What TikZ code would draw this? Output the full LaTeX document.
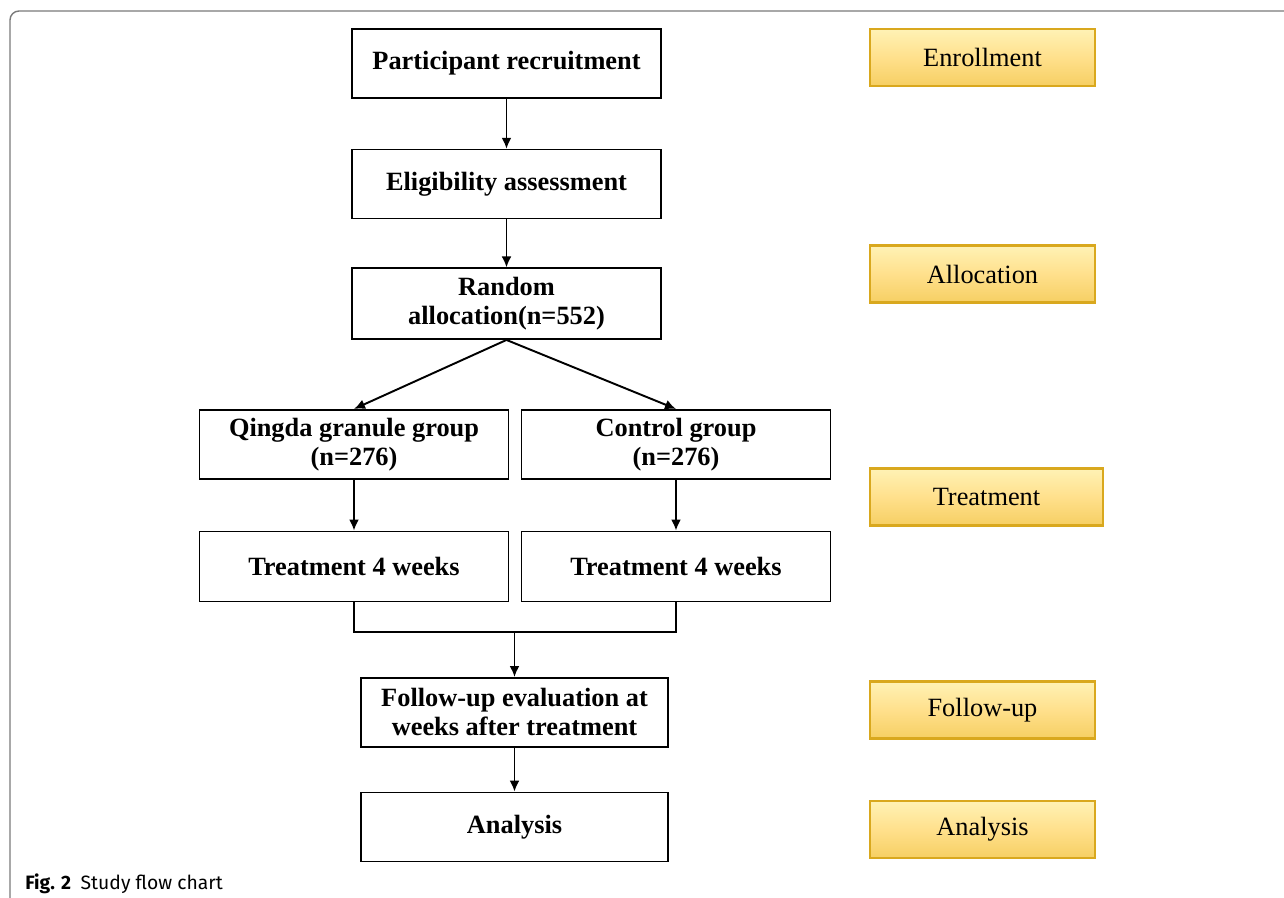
\documentclass[tikz,border=0pt]{standalone}
\usepackage{xcolor}
\usepackage{fontspec}
\setmainfont{Liberation Serif}
\newfontfamily\capfont{Fira Sans}
\usepackage{tikz}
\usetikzlibrary{arrows.meta,positioning,calc}
\definecolor{framegray}{HTML}{7A7A7A}
\definecolor{goldedge}{HTML}{D9A81E}
\definecolor{goldtop}{HTML}{FFF2B5}
\definecolor{goldmid}{HTML}{FFE08C}
\definecolor{goldbot}{HTML}{F6CF63}

\begin{document}
\begin{tikzpicture}[
  node distance=1cm,
  every node/.style={align=center},
  flowbox/.style={draw=black,line width=0.9pt,minimum width=6.18cm,minimum height=1.38cm,
    font=\fontsize{15}{16.5}\selectfont\bfseries,inner sep=2pt},
  stage/.style={draw=goldedge,line width=1.4pt,top color=goldtop,bottom color=goldbot,
    middle color=goldmid,minimum width=4.5cm,minimum height=1.14cm,
    font=\fontsize{15}{16.5}\selectfont},
  arr/.style={-{Latex[length=2.2mm,width=2mm]},line width=1.1pt},
  link/.style={line width=1.1pt}
]
\useasboundingbox (0,0) rectangle (25.68,-17.96);
% outer frame
\draw[framegray,line width=0.8pt,rounded corners=0.18cm] (0.2,-18.2) -- (0.2,-0.22) -- (26,-0.22);

% main flow
\node[flowbox] (recruit) at (10.13,-1.27) {Participant recruitment};
\node[flowbox,below=of recruit] (elig) {Eligibility assessment};
\node[flowbox,below=0.96cm of elig,minimum height=1.42cm] (rand) {Random\\allocation(n=552)};
\node[flowbox,below=1.38cm of rand,xshift=-3.05cm] (qingda) {Qingda granule group\\(n=276)};
\node[flowbox,below=1.38cm of rand,xshift=3.39cm] (control) {Control group\\(n=276)};
\node[flowbox,below=1.02cm of qingda,minimum height=1.4cm] (treatL) {Treatment 4 weeks};
\node[flowbox,below=1.02cm of control,minimum height=1.4cm] (treatR) {Treatment 4 weeks};
\coordinate (merge) at (10.29,-12.64);
\node[flowbox,below=0.9cm of merge,minimum width=6.14cm] (follow) {Follow-up evaluation at\\weeks after treatment};
\node[flowbox,below=0.88cm of follow,minimum width=6.14cm] (analysis) {Analysis};

\draw[arr] (recruit)--(elig);
\draw[arr] (elig)--(rand);
\draw[arr] (rand.south)--(qingda.north);
\draw[arr] (rand.south)--(control.north);
\draw[arr] (qingda)--(treatL);
\draw[arr] (control)--(treatR);
\draw[link] (treatL.south)|-(merge);
\draw[link] (treatR.south)|-(merge);
\draw[arr] (merge)--(follow);
\draw[arr] (follow)--(analysis);

% stage labels
\node[stage] (s1) at (19.65,-1.15) {Enrollment};
\node[stage] (s2) at (19.65,-5.48) {Allocation};
\node[stage,minimum width=4.66cm] (s3) at (19.73,-9.94) {Treatment};
\node[stage] (s4) at (19.65,-14.2) {Follow-up};
\node[stage] (s5) at (19.65,-16.59) {Analysis};

% caption
\node[anchor=base west,inner sep=0pt,font=\capfont\fontsize{11}{13}\selectfont] (cap) at (0.5,-17.78) {\textbf{Fig. 2}\hspace{0.5em}Study flow chart};
\end{tikzpicture}
\end{document}
